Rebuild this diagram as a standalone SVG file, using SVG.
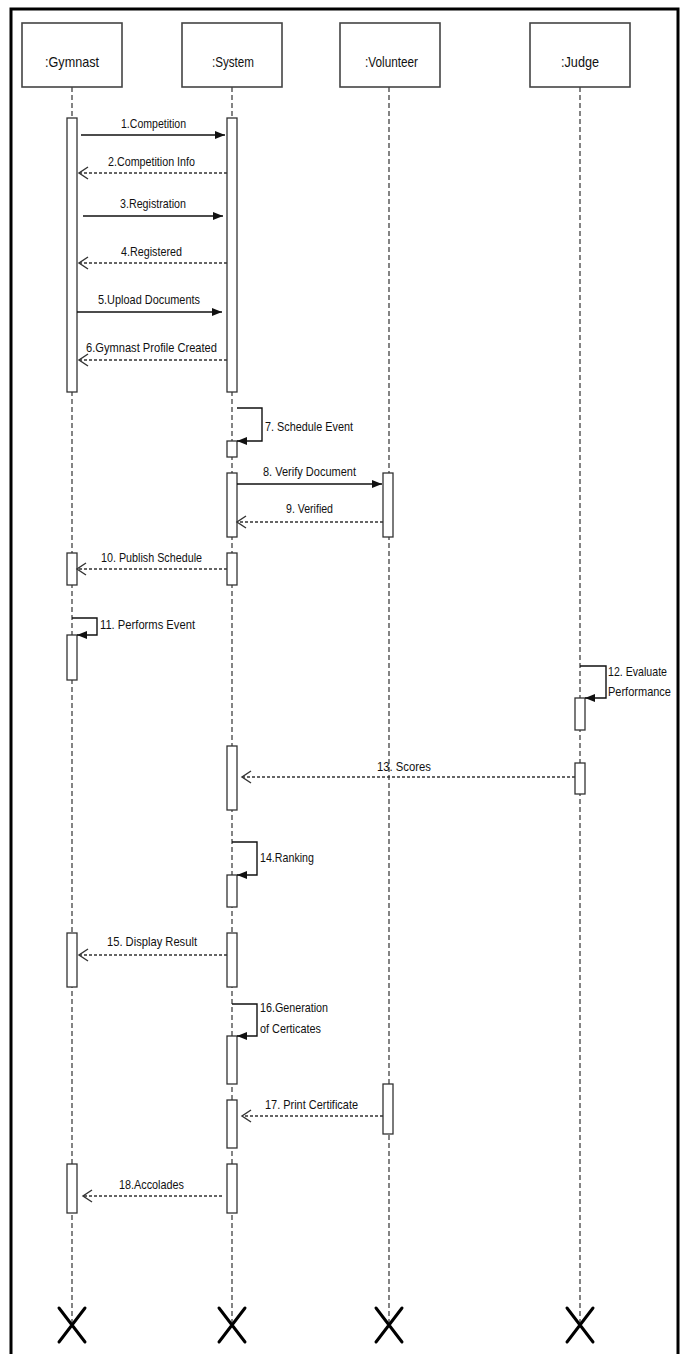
<svg xmlns="http://www.w3.org/2000/svg" width="686" height="1354" viewBox="0 0 686 1354">
<style>
.box{fill:#fff;stroke:#444;stroke-width:1.6}
.life{stroke:#333;stroke-width:1.2;stroke-dasharray:5,3;fill:none}
.act{fill:#fff;stroke:#333;stroke-width:1.3}
.x{stroke:#000;stroke-width:3;stroke-linecap:round}
.t{font-family:"Liberation Sans Narrow","Liberation Sans",Arial,sans-serif;font-size:13.5px;fill:#111}
.h{font-size:14.5px}
.sync{stroke:#111;stroke-width:1.4;fill:none;marker-end:url(#fa)}
.ret{stroke:#333;stroke-width:1.4;stroke-dasharray:3,2;fill:none;marker-end:url(#oa)}
</style>
<defs>
<marker id="fa" markerUnits="userSpaceOnUse" markerWidth="11" markerHeight="10" refX="10" refY="5" orient="auto"><path d="M0,1 L10,5 L0,9 z" fill="#111"/></marker>
<marker id="oa" markerUnits="userSpaceOnUse" markerWidth="12" markerHeight="14" refX="10" refY="7" orient="auto"><path d="M1,1 L10,7 L1,13" fill="none" stroke="#333" stroke-width="1.4"/></marker>
</defs>
<rect x="11" y="9" width="667" height="1360" fill="none" stroke="#000" stroke-width="3"/>

<g id="gymnast">
<line class="life" x1="72" y1="87" x2="72" y2="1322"/>
<rect class="box" x="22" y="23" width="100" height="64"/>
<text class="t h" x="45" y="67" textLength="54" lengthAdjust="spacingAndGlyphs">:Gymnast</text>
<rect class="act" x="67" y="118" width="10" height="274"/>
<rect class="act" x="67" y="553" width="10" height="32"/>
<rect class="act" x="67" y="635" width="10" height="45"/>
<rect class="act" x="67" y="933" width="10" height="54"/>
<rect class="act" x="67" y="1164" width="10" height="49"/>
<path class="x" d="M59,1308 L85,1342 M85,1308 L59,1342"/>
</g>

<g id="system">
<line class="life" x1="232" y1="87" x2="232" y2="1322"/>
<rect class="box" x="182" y="23" width="100" height="64"/>
<text class="t h" x="212" y="67" textLength="42" lengthAdjust="spacingAndGlyphs">:System</text>
<rect class="act" x="227" y="118" width="10" height="274"/>
<rect class="act" x="227" y="441" width="10" height="16"/>
<rect class="act" x="227" y="473" width="10" height="64"/>
<rect class="act" x="227" y="553" width="10" height="32"/>
<rect class="act" x="227" y="746" width="10" height="64"/>
<rect class="act" x="227" y="875" width="10" height="32"/>
<rect class="act" x="227" y="933" width="10" height="54"/>
<rect class="act" x="227" y="1036" width="10" height="48"/>
<rect class="act" x="227" y="1100" width="10" height="48"/>
<rect class="act" x="227" y="1164" width="10" height="49"/>
<path class="x" d="M219,1308 L245,1342 M245,1308 L219,1342"/>
</g>

<g id="volunteer">
<line class="life" x1="389" y1="87" x2="389" y2="1322"/>
<rect class="box" x="340" y="23" width="100" height="64"/>
<text class="t h" x="365" y="67" textLength="53" lengthAdjust="spacingAndGlyphs">:Volunteer</text>
<rect class="act" x="383" y="473" width="10" height="64"/>
<rect class="act" x="383" y="1084" width="10" height="50"/>
<path class="x" d="M376,1308 L402,1342 M402,1308 L376,1342"/>
</g>

<g id="judge">
<line class="life" x1="580" y1="87" x2="580" y2="1322"/>
<rect class="box" x="530" y="23" width="100" height="64"/>
<text class="t h" x="561" y="67" textLength="38" lengthAdjust="spacingAndGlyphs">:Judge</text>
<rect class="act" x="575" y="698" width="10" height="32"/>
<rect class="act" x="575" y="763" width="10" height="31"/>
<path class="x" d="M567,1308 L593,1342 M593,1308 L567,1342"/>
</g>

<g id="connectors">
<line class="sync" x1="81" y1="135" x2="225" y2="135"/>
<line class="ret" x1="227" y1="173" x2="79" y2="173"/>
<line class="sync" x1="83" y1="216" x2="223" y2="216"/>
<line class="ret" x1="227" y1="263" x2="79" y2="263"/>
<line class="sync" x1="77" y1="312" x2="222" y2="312"/>
<line class="ret" x1="227" y1="360" x2="79" y2="360"/>
<polyline class="sync" points="237,408 262,408 262,441 237,441"/>
<line class="sync" x1="237" y1="484" x2="382" y2="484"/>
<line class="ret" x1="383" y1="522" x2="237" y2="522"/>
<line class="ret" x1="227" y1="569" x2="77" y2="569"/>
<polyline class="sync" points="72,618 97,618 97,635 77,635"/>
<polyline class="sync" points="580,666 606,666 606,698 585,698"/>
<line class="ret" x1="575" y1="777" x2="242" y2="777"/>
<polyline class="sync" points="232,842 257,842 257,875 237,875"/>
<line class="ret" x1="227" y1="955" x2="79" y2="955"/>
<polyline class="sync" points="232,1004 257,1004 257,1036 237,1036"/>
<line class="ret" x1="383" y1="1116" x2="242" y2="1116"/>
<line class="ret" x1="222" y1="1196" x2="83" y2="1196"/>

<text class="t" x="121" y="128" textLength="65" lengthAdjust="spacingAndGlyphs">1.Competition</text>
<text class="t" x="108" y="166" textLength="87" lengthAdjust="spacingAndGlyphs">2.Competition Info</text>
<text class="t" x="120" y="208" textLength="66" lengthAdjust="spacingAndGlyphs">3.Registration</text>
<text class="t" x="121" y="256" textLength="61" lengthAdjust="spacingAndGlyphs">4.Registered</text>
<text class="t" x="98" y="304" textLength="102" lengthAdjust="spacingAndGlyphs">5.Upload Documents</text>
<text class="t" x="86" y="352" textLength="131" lengthAdjust="spacingAndGlyphs">6.Gymnast Profile Created</text>
<text class="t" x="265" y="431" textLength="88" lengthAdjust="spacingAndGlyphs">7. Schedule Event</text>
<text class="t" x="263" y="476" textLength="93" lengthAdjust="spacingAndGlyphs">8. Verify Document</text>
<text class="t" x="286" y="513" textLength="47" lengthAdjust="spacingAndGlyphs">9. Verified</text>
<text class="t" x="101" y="562" textLength="101" lengthAdjust="spacingAndGlyphs">10. Publish Schedule</text>
<text class="t" x="100" y="629" textLength="95" lengthAdjust="spacingAndGlyphs">11. Performs Event</text>
<text class="t" x="608" y="676" textLength="59" lengthAdjust="spacingAndGlyphs">12. Evaluate</text>
<text class="t" x="608" y="696" textLength="63" lengthAdjust="spacingAndGlyphs">Performance</text>
<text class="t" x="377" y="771" textLength="54" lengthAdjust="spacingAndGlyphs">13. Scores</text>
<text class="t" x="260" y="862" textLength="54" lengthAdjust="spacingAndGlyphs">14.Ranking</text>
<text class="t" x="107" y="946" textLength="90" lengthAdjust="spacingAndGlyphs">15. Display Result</text>
<text class="t" x="260" y="1012" textLength="68" lengthAdjust="spacingAndGlyphs">16.Generation</text>
<text class="t" x="260" y="1033" textLength="61" lengthAdjust="spacingAndGlyphs">of Certicates</text>
<text class="t" x="265" y="1109" textLength="93" lengthAdjust="spacingAndGlyphs">17. Print Certificate</text>
<text class="t" x="119" y="1189" textLength="65" lengthAdjust="spacingAndGlyphs">18.Accolades</text>
</g>
</svg>
